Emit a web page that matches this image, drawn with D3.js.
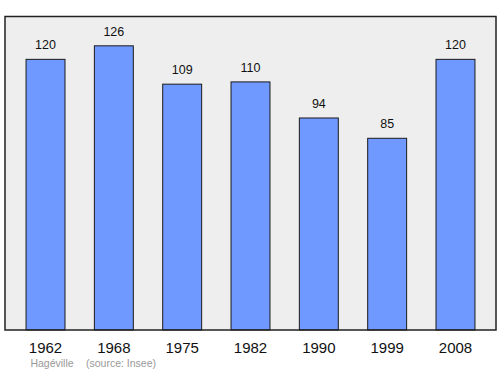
<!DOCTYPE html>
<html lang="fr">
<head>
<meta charset="UTF-8">
<title>Hagéville</title>
<script src="https://d3js.org/d3.v7.min.js"></script>
<style>
  body { margin: 0; background: #fff; }
  svg { display: block; font-family: "Liberation Sans", Arial, sans-serif; }
</style>
</head>
<body>
<svg id="chart" width="500" height="374"></svg>
<script>
(function () {
  'use strict';

  // population by census year
  const years = ["1962", "1968", "1975", "1982", "1990", "1999", "2008"];
  const population = [120, 126, 109, 110, 94, 85, 120];
  const townName = "Hagéville";
  const sourceNote = "(source: Insee)";

  const svg = d3.select("#chart");

  const frame = { left: 5, top: 16.5, right: 496, bottom: 330 };

  const x = d3.scaleBand()
      .domain(years)
      .range([11.35, 489.65])
      .paddingInner(0.43)
      .paddingOuter(0.215);

  const y = d3.scaleLinear()
      .domain([0, 139])
      .range([frame.bottom, frame.top]);

  // plot background
  svg.append("rect")
      .attr("x", frame.left)
      .attr("y", frame.top)
      .attr("width", frame.right - frame.left)
      .attr("height", frame.bottom - frame.top)
      .attr("fill", "#eeeeee");

  const data = years.map((yr, i) => ({ year: yr, value: population[i] }));

  // bars
  svg.append("g")
      .selectAll("rect")
      .data(data)
      .join("rect")
      .attr("x", d => x(d.year))
      .attr("y", d => y(d.value))
      .attr("width", x.bandwidth())
      .attr("height", d => y(0) - y(d.value))
      .attr("fill", "#7099ff")
      .attr("stroke", "#1a1a1a")
      .attr("stroke-width", 1);

  // value labels
  svg.append("g")
      .attr("text-anchor", "middle")
      .style("font-size", "12.5px")
      .attr("fill", "#111")
      .selectAll("text")
      .data(data)
      .join("text")
      .attr("x", d => x(d.year) + x.bandwidth() / 2)
      .attr("y", d => y(d.value) - 10)
      .text(d => d.value);

  // frame on top
  svg.append("rect")
      .attr("x", frame.left)
      .attr("y", frame.top)
      .attr("width", frame.right - frame.left)
      .attr("height", frame.bottom - frame.top)
      .attr("fill", "none")
      .attr("stroke", "#222")
      .attr("stroke-width", 1.5);

  // year axis labels
  const xAxis = d3.axisBottom(x).tickSize(0).tickPadding(12);
  const axisG = svg.append("g")
      .attr("transform", `translate(0,${frame.bottom})`)
      .call(xAxis);
  axisG.select(".domain").remove();
  axisG.selectAll("text")
      .style("font-size", "15px")
      .style("font-family", "Liberation Sans, Arial, sans-serif")
      .attr("fill", "#111");

  // footer
  svg.append("text")
      .attr("x", 52)
      .attr("y", 367)
      .attr("text-anchor", "middle")
      .style("font-size", "10.5px")
      .attr("fill", "#999")
      .text(townName);

  svg.append("text")
      .attr("x", 86)
      .attr("y", 367)
      .style("font-size", "10.5px")
      .attr("fill", "#999")
      .text(sourceNote);
}());
</script>
</body>
</html>
